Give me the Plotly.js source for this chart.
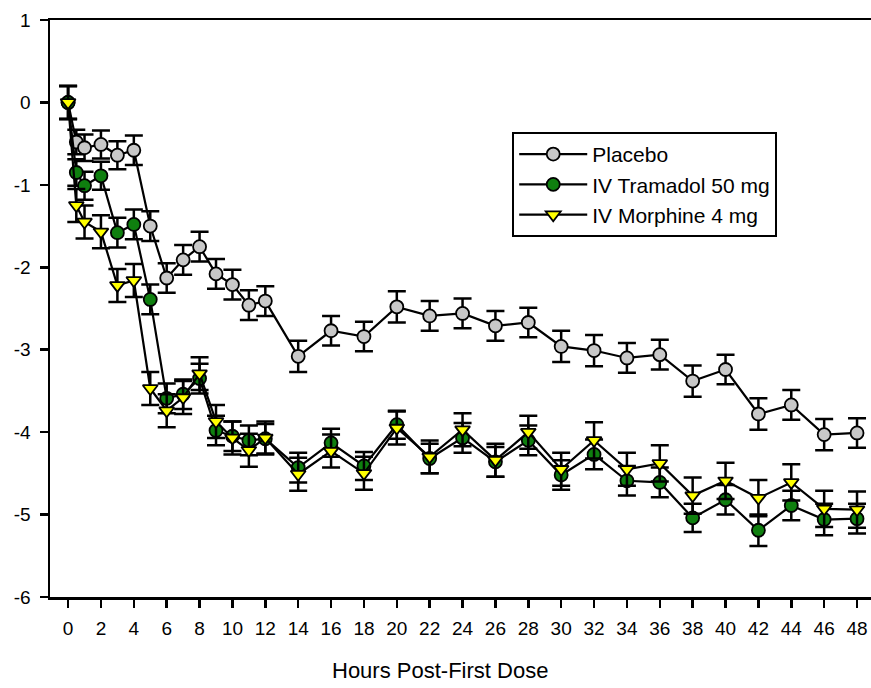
<!DOCTYPE html>
<html>
<head>
<meta charset="utf-8">
<script src="https://cdn.plot.ly/plotly-3.0.1.min.js"></script>
<style>
html,body{margin:0;padding:0;background:#fff;}
#chart{width:871px;height:688px;}
</style>
</head>
<body>
<div id="chart"></div>
<script>
var hours = [0, 0.5, 1, 2, 3, 4, 5, 6, 7, 8, 9, 10, 11, 12, 14, 16, 18, 20, 22, 24, 26, 28, 30, 32, 34, 36, 38, 40, 42, 44, 46, 48];

var placebo = [0, -0.48, -0.55, -0.51, -0.64, -0.58, -1.50, -2.13, -1.91, -1.75, -2.08, -2.21, -2.46, -2.41,
  -3.08, -2.77, -2.84, -2.48, -2.59, -2.56, -2.71, -2.67, -2.96, -3.01, -3.10, -3.06, -3.38, -3.24, -3.78, -3.67, -4.03, -4.01];
var placeboErr = [0.2, 0.15, 0.16, 0.17, 0.17, 0.18, 0.18, 0.18, 0.18, 0.18, 0.18, 0.18, 0.18, 0.18,
  0.19, 0.18, 0.18, 0.19, 0.18, 0.18, 0.18, 0.18, 0.19, 0.19, 0.18, 0.18, 0.19, 0.18, 0.19, 0.18, 0.19, 0.18];

var tramadol = [0, -0.85, -1.01, -0.89, -1.58, -1.48, -2.39, -3.59, -3.54, -3.35, -3.98, -4.05, -4.10, -4.08,
  -4.43, -4.13, -4.41, -3.91, -4.32, -4.07, -4.36, -4.10, -4.52, -4.27, -4.59, -4.61, -5.04, -4.82, -5.19, -4.89, -5.06, -5.05];
var tramadolErr = [0.2, 0.16, 0.17, 0.17, 0.18, 0.18, 0.18, 0.18, 0.18, 0.18, 0.18, 0.18, 0.18, 0.18,
  0.18, 0.17, 0.17, 0.17, 0.18, 0.18, 0.18, 0.18, 0.18, 0.18, 0.18, 0.18, 0.17, 0.18, 0.19, 0.18, 0.19, 0.18];

var morphine = [0, -1.25, -1.45, -1.57, -2.22, -2.16, -3.47, -3.74, -3.58, -3.29, -3.87, -4.07, -4.22, -4.07,
  -4.51, -4.23, -4.50, -3.95, -4.30, -3.97, -4.34, -4.00, -4.45, -4.10, -4.45, -4.38, -4.77, -4.59, -4.80, -4.61, -4.93, -4.94];
var morphineErr = [0.2, 0.2, 0.2, 0.2, 0.2, 0.2, 0.2, 0.2, 0.2, 0.2, 0.2, 0.2, 0.2, 0.2,
  0.2, 0.2, 0.2, 0.2, 0.2, 0.2, 0.2, 0.2, 0.2, 0.22, 0.2, 0.22, 0.22, 0.22, 0.22, 0.22, 0.22, 0.22];

var seriesNames = ['Placebo', 'IV Tramadol 50 mg', 'IV Morphine 4 mg'];
var xTicks = [0, 2, 4, 6, 8, 10, 12, 14, 16, 18, 20, 22, 24, 26, 28, 30, 32, 34, 36, 38, 40, 42, 44, 46, 48];
var yTicks = [-6, -5, -4, -3, -2, -1, 0, 1];
var xTitle = 'Hours Post-First Dose';

function mk(y, err, name, symbol, fill) {
  return {
    x: hours, y: y, name: name, type: 'scatter', mode: 'lines+markers',
    line: {color: '#000', width: 2.2},
    marker: {symbol: symbol, size: 13, color: fill, line: {color: '#000', width: 1.8}},
    error_y: {type: 'data', array: err, visible: true, color: '#000', thickness: 2.5, width: 9}
  };
}

var data = [
  mk(placebo, placeboErr, seriesNames[0], 'circle', '#c8c8c8'),
  mk(tramadol, tramadolErr, seriesNames[1], 'circle', '#0f7f0f'),
  mk(morphine, morphineErr, seriesNames[2], 'triangle-down', '#ffff00')
];

var fam = 'Liberation Sans, Arial, sans-serif';

var layout = {
  width: 871, height: 688,
  margin: {l: 50, r: 0, t: 20, b: 91},
  paper_bgcolor: '#fff', plot_bgcolor: '#fff',
  showlegend: true,
  legend: {
    x: 0.563, y: 0.806, xanchor: 'left', yanchor: 'top',
    bordercolor: '#000', borderwidth: 2, bgcolor: '#fff',
    font: {family: fam, size: 21, color: '#000'},
    itemwidth: 68
  },
  xaxis: {
    range: [-1.1, 48.85],
    tickvals: xTicks, ticktext: xTicks.map(String),
    ticks: 'outside', ticklen: 8, tickwidth: 2.5, tickcolor: '#000',
    showline: true, linecolor: '#000', linewidth: 2.5, mirror: true,
    showgrid: false, zeroline: false,
    tickfont: {family: fam, size: 19, color: '#000'},
    ticklabelstandoff: 5
  },
  yaxis: {
    range: [-6, 1],
    tickvals: yTicks, ticktext: yTicks.map(String),
    ticks: 'outside', ticklen: 8, tickwidth: 2.5, tickcolor: '#000',
    showline: true, linecolor: '#000', linewidth: 2.5,
    showgrid: false, zeroline: false,
    tickfont: {family: fam, size: 19, color: '#000'},
    ticklabelstandoff: 5
  },
  annotations: [{
    text: xTitle, xref: 'paper', yref: 'paper',
    x: 0.475, y: -0.128, xanchor: 'center', yanchor: 'middle',
    showarrow: false, font: {family: fam, size: 22, color: '#000'}
  }]
};

Plotly.newPlot('chart', data, layout, {staticPlot: true, displayModeBar: false});
</script>
</body>
</html>
